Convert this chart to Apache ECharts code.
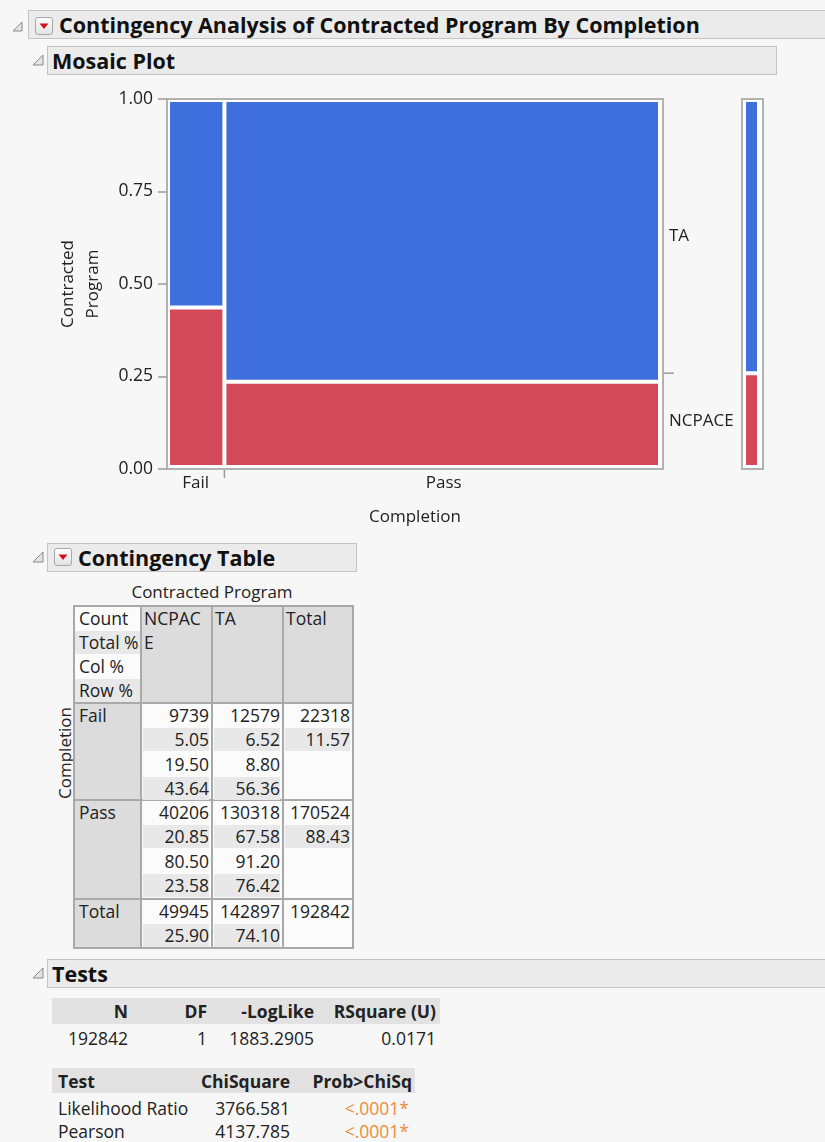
<!DOCTYPE html>
<html><head><meta charset="utf-8">
<script src="https://cdn.jsdelivr.net/npm/echarts/dist/echarts.min.js"></script>
<style>
html,body{margin:0;padding:0;}
body{width:825px;height:1142px;background:#f7f7f7;position:relative;overflow:hidden;font-family:'Open Sans',sans-serif;color:#222;}
.a{position:absolute;white-space:nowrap;}
.hdr{position:absolute;background:#ebebeb;border:1px solid #c4c4c4;box-sizing:border-box;height:29px;}
.hdr .t{position:absolute;top:0;height:27px;line-height:27px;font-weight:bold;font-size:21.5px;color:#111;}
.btn{position:absolute;width:18px;height:18px;box-sizing:border-box;border:1px solid #a8a8a8;border-radius:3px;background:linear-gradient(#ffffff,#e2e2e2);}
.ln{position:absolute;height:24px;line-height:24px;font-size:17.5px;white-space:nowrap;}
</style></head>
<body>
<div id="chart" class="a" style="left:0;top:0;width:825px;height:540px;"></div>
<div id="page"></div>
<script>
// ---------- data ----------
const completion = ['Fail', 'Pass'];
const programs = ['NCPACE', 'TA'];
const countNCPACE = [9739, 40206];
const countTA = [12579, 130318];
const countRowTotal = [22318, 170524];
const totalPctNCPACE = ['5.05', '20.85'];
const totalPctTA = ['6.52', '67.58'];
const totalPctRow = ['11.57', '88.43'];
const colPctNCPACE = ['19.50', '80.50'];
const colPctTA = ['8.80', '91.20'];
const rowPctNCPACE = ['43.64', '23.58'];
const rowPctTA = ['56.36', '76.42'];
const colTotals = [49945, 142897];
const grandTotal = 192842;
const colTotalPct = ['25.90', '74.10'];
const statLabels = ['Count', 'Total %', 'Col %', 'Row %'];
const testHead1 = ['N', 'DF', '-LogLike', 'RSquare (U)'];
const testVals1 = ['192842', '1', '1883.2905', '0.0171'];
const testHead2 = ['Test', 'ChiSquare', 'Prob>ChiSq'];
const testNames = ['Likelihood Ratio', 'Pearson'];
const testChiSq = ['3766.581', '4137.785'];
const testProb = ['<.0001*', '<.0001*'];
const progColors = ['#d4495a', '#3f6fdd'];

// ---------- mosaic geometry from counts ----------
const colTot = completion.map((c, i) => countNCPACE[i] + countTA[i]);
const grand = colTot.reduce((a, b) => a + b, 0);
const cells = [], colMid = [], bounds = [];
let acc = 0;
completion.forEach((c, i) => {
  const x0 = acc / grand; acc += colTot[i]; const x1 = acc / grand;
  const f = countNCPACE[i] / colTot[i];
  cells.push([x0, x1, 0, f, 0]);
  cells.push([x0, x1, f, 1, 1]);
  colMid.push([(x0 + x1) / 2, 0]);
  if (i < completion.length - 1) bounds.push([x1, 0]);
});
const margNC = countNCPACE.reduce((a, b) => a + b, 0) / grand;
const margCells = [[0, 1, 0, margNC, 0], [0, 1, margNC, 1, 1]];
const sideLabels = [[1, margNC / 2], [1, (1 + margNC) / 2]];
const sideNames = [programs[0], programs[1]];

const FONT = "'Open Sans', sans-serif";
function rectItem(api, inL, inR, inT, inB) {
  const x0 = api.value(0), x1 = api.value(1), y0 = api.value(2), y1 = api.value(3);
  const p0 = api.coord([x0, y0]), p1 = api.coord([x1, y1]);
  const l = p0[0] + (x0 <= 0 ? inL : 2), r = p1[0] - (x1 >= 1 ? inR : 2);
  const t = p1[1] + (y1 >= 1 ? inT : 2), b = p0[1] - (y0 <= 0 ? inB : 2);
  return { type: 'rect', shape: { x: l, y: t, width: r - l, height: b - t },
    style: { fill: progColors[api.value(4)] } };
}

const chart = echarts.init(document.getElementById('chart'), null, { renderer: 'canvas' });
chart.setOption({
  animation: false,
  backgroundColor: 'transparent',
  textStyle: { fontFamily: FONT },
  grid: [
    { left: 167, top: 99, width: 496, height: 370, show: true, backgroundColor: '#ffffff', borderColor: '#b2b2b2', borderWidth: 2 },
    { left: 742, top: 99, width: 21, height: 370, show: true, backgroundColor: '#ffffff', borderColor: '#b2b2b2', borderWidth: 2 }
  ],
  xAxis: [
    { gridIndex: 0, type: 'value', min: 0, max: 1, axisLine: { show: false }, axisTick: { show: false },
      axisLabel: { show: false }, splitLine: { show: false },
      name: 'Completion', nameLocation: 'middle', nameGap: 48,
      nameTextStyle: { fontSize: 17, color: '#222', fontFamily: FONT, verticalAlign: 'middle' } },
    { gridIndex: 1, type: 'value', min: 0, max: 1, show: false }
  ],
  yAxis: [
    { gridIndex: 0, type: 'value', min: 0, max: 1, interval: 0.25,
      axisLine: { show: false }, splitLine: { show: false },
      axisTick: { show: true, length: 9, lineStyle: { color: '#9a9a9a', width: 1.5 } },
      axisLabel: { formatter: v => v.toFixed(2), fontSize: 17.5, color: '#222', margin: 14, fontFamily: FONT },
      name: 'Contracted\nProgram', nameLocation: 'middle', nameRotate: 90, nameGap: 86,
      nameTextStyle: { fontSize: 17, color: '#222', lineHeight: 25, fontFamily: FONT, verticalAlign: 'middle', align: 'center' } },
    { gridIndex: 1, type: 'value', min: 0, max: 1, show: false }
  ],
  series: [
    { type: 'custom', name: 'mosaic', xAxisIndex: 0, yAxisIndex: 0, data: cells,
      renderItem: (p, api) => rectItem(api, 3, 5, 3, 4) },
    { type: 'custom', name: 'margin', xAxisIndex: 1, yAxisIndex: 1, data: margCells,
      renderItem: (p, api) => rectItem(api, 4, 6, 3, 4) },
    { type: 'custom', name: 'xlabels', xAxisIndex: 0, yAxisIndex: 0, clip: false, data: colMid,
      renderItem: (p, api) => {
        const pt = api.coord([api.value(0), api.value(1)]);
        return { type: 'text', x: pt[0], y: pt[1] + 14,
          style: { text: completion[p.dataIndex], textAlign: 'center', textVerticalAlign: 'middle', fontSize: 17, fontFamily: FONT, fill: '#222' } };
      } },
    { type: 'custom', name: 'xticks', xAxisIndex: 0, yAxisIndex: 0, clip: false, data: bounds,
      renderItem: (p, api) => {
        const pt = api.coord([api.value(0), api.value(1)]);
        return { type: 'line', shape: { x1: pt[0], y1: pt[1] + 1, x2: pt[0], y2: pt[1] + 9 },
          style: { stroke: '#9a9a9a', lineWidth: 1.5 } };
      } },
    { type: 'custom', name: 'sideLabels', xAxisIndex: 0, yAxisIndex: 0, clip: false, data: sideLabels,
      renderItem: (p, api) => {
        const pt = api.coord([api.value(0), api.value(1)]);
        return { type: 'text', x: pt[0] + 6, y: pt[1],
          style: { text: sideNames[p.dataIndex], textAlign: 'left', textVerticalAlign: 'middle', fontSize: 17, fontFamily: FONT, fill: '#222' } };
      } },
    { type: 'custom', name: 'sideTick', xAxisIndex: 0, yAxisIndex: 0, clip: false, data: [[1, margNC]],
      renderItem: (p, api) => {
        const pt = api.coord([api.value(0), api.value(1)]);
        return { type: 'line', shape: { x1: pt[0] + 1, y1: pt[1], x2: pt[0] + 11, y2: pt[1] },
          style: { stroke: '#9a9a9a', lineWidth: 1.5 } };
      } }
  ]
});

// ---------- page outline / tables ----------
const page = document.getElementById('page');
function el(html) { page.insertAdjacentHTML('beforeend', html); }
function tri(x, y, s) {
  el(`<svg class="a" style="left:${x}px;top:${y}px" width="${s + 2}" height="${s + 2}"><polygon points="1,${s + 1} ${s + 1},${s + 1} ${s + 1},1" fill="#e4e4e4" stroke="#8a8a8a" stroke-width="1"/></svg>`);
}
function btn(x, y) {
  el(`<div class="btn" style="left:${x}px;top:${y}px"><svg class="a" style="left:0;top:0" width="16" height="16"><polygon points="3.5,5.5 12.5,5.5 8,11" fill="#d7101f"/></svg></div>`);
}
function header(x, y, w, text, textX) {
  el(`<div class="hdr" style="left:${x}px;top:${y}px;width:${w}px"><div class="t" style="left:${textX - x - 1}px">${text}</div></div>`);
}
tri(12, 21, 9); header(28, 10, 800, 'Contingency Analysis of Contracted Program By Completion', 59); btn(35, 17);
tri(32, 54, 10); header(47, 46, 730, 'Mosaic Plot', 52);
tri(32, 551, 10); header(47, 543, 310, 'Contingency Table', 78); btn(54, 548);
tri(32, 967, 10); header(47, 959, 780, 'Tests', 52);

// text line helpers: cy = vertical center
function lineL(x, cy, s, extra) { el(`<div class="ln" style="left:${x}px;top:${cy - 12}px;${extra || ''}">${s}</div>`); }
function lineR(xr, cy, s, extra) { el(`<div class="ln" style="left:${xr - 300}px;width:300px;text-align:right;top:${cy - 12}px;${extra || ''}">${s}</div>`); }
function rect(x, y, w, h, c) { el(`<div class="a" style="left:${x}px;top:${y}px;width:${w}px;height:${h}px;background:${c}"></div>`); }

// Contingency table
el(`<div class="ln" style="left:112px;width:200px;text-align:center;top:580px;font-size:17px">Contracted Program</div>`);
el(`<div class="ln" style="left:15px;width:100px;text-align:center;top:741px;transform:rotate(-90deg);font-size:17px">Completion</div>`);
const cx = [74, 141, 212, 283, 353];
const ry = [606, 703, 800, 899, 948];
const SUB = 24.3;
const LINE = '#a9a9a9', HEAD = '#dcdcdc', CELL = '#fbfbfb', STRIPE = '#e8e8e8';
rect(cx[0] - 1, ry[0] - 1, cx[4] - cx[0] + 2, ry[4] - ry[0] + 2, LINE);
for (let r = 0; r < 4; r++) {
  for (let c = 0; c < 4; c++) {
    const head = (r === 0 && c > 0) || (c === 0 && r > 0);
    rect(cx[c] + 1, ry[r] + 1, cx[c + 1] - cx[c] - 2, ry[r + 1] - ry[r] - 2, head ? HEAD : CELL);
  }
}
// stat label cell
statLabels.forEach((s, k) => {
  const cy = ry[0] + 11.5 + k * SUB;
  if (k % 2 === 1) rect(cx[0] + 1, Math.round(cy - 11), cx[1] - cx[0] - 2, 23, STRIPE);
  lineL(cx[0] + 5, cy, s);
});
// column headers
const hx = [cx[1] + 3, cx[2] + 3, cx[3] + 3];
lineL(hx[0], ry[0] + 11.5, programs[0].slice(0, 5));
lineL(hx[0], ry[0] + 11.5 + SUB, programs[0].slice(5));
lineL(hx[1], ry[0] + 11.5, programs[1]);
lineL(hx[2], ry[0] + 11.5, 'Total');
// body
function cellLines(c, r, vals) {
  vals.forEach((v, k) => {
    if (v === null) return;
    const cy = ry[r] + 12 + k * SUB;
    if (k % 2 === 1) rect(cx[c] + 2, Math.round(cy - 11), cx[c + 1] - cx[c] - 5, 23, STRIPE);
    lineR(cx[c + 1] - 3, cy, v);
  });
}
completion.forEach((name, i) => {
  const r = i + 1;
  lineL(cx[0] + 5, ry[r] + 12, name);
  cellLines(1, r, [String(countNCPACE[i]), totalPctNCPACE[i], colPctNCPACE[i], rowPctNCPACE[i]]);
  cellLines(2, r, [String(countTA[i]), totalPctTA[i], colPctTA[i], rowPctTA[i]]);
  cellLines(3, r, [String(countRowTotal[i]), totalPctRow[i]]);
});
lineL(cx[0] + 5, ry[3] + 12, 'Total');
cellLines(1, 3, [String(colTotals[0]), colTotalPct[0]]);
cellLines(2, 3, [String(colTotals[1]), colTotalPct[1]]);
cellLines(3, 3, [String(grandTotal)]);

// Tests
rect(52, 998, 388, 26, '#e2e2e2');
const t1r = [128, 207, 314, 436];
testHead1.forEach((h, k) => lineR(t1r[k], 1011, h, 'font-weight:bold'));
testVals1.forEach((v, k) => lineR(t1r[k], 1038, v));
rect(52, 1068, 363, 25, '#e2e2e2');
lineL(58, 1080.5, testHead2[0], 'font-weight:bold');
lineR(290, 1080.5, testHead2[1], 'font-weight:bold');
lineR(412, 1080.5, testHead2[2], 'font-weight:bold');
testNames.forEach((n, k) => {
  const cy = 1108 + k * 23;
  lineL(58, cy, n);
  lineR(290, cy, testChiSq[k]);
  lineR(409, cy, testProb[k], 'color:#ee8a3e');
});
</script>
</body></html>
